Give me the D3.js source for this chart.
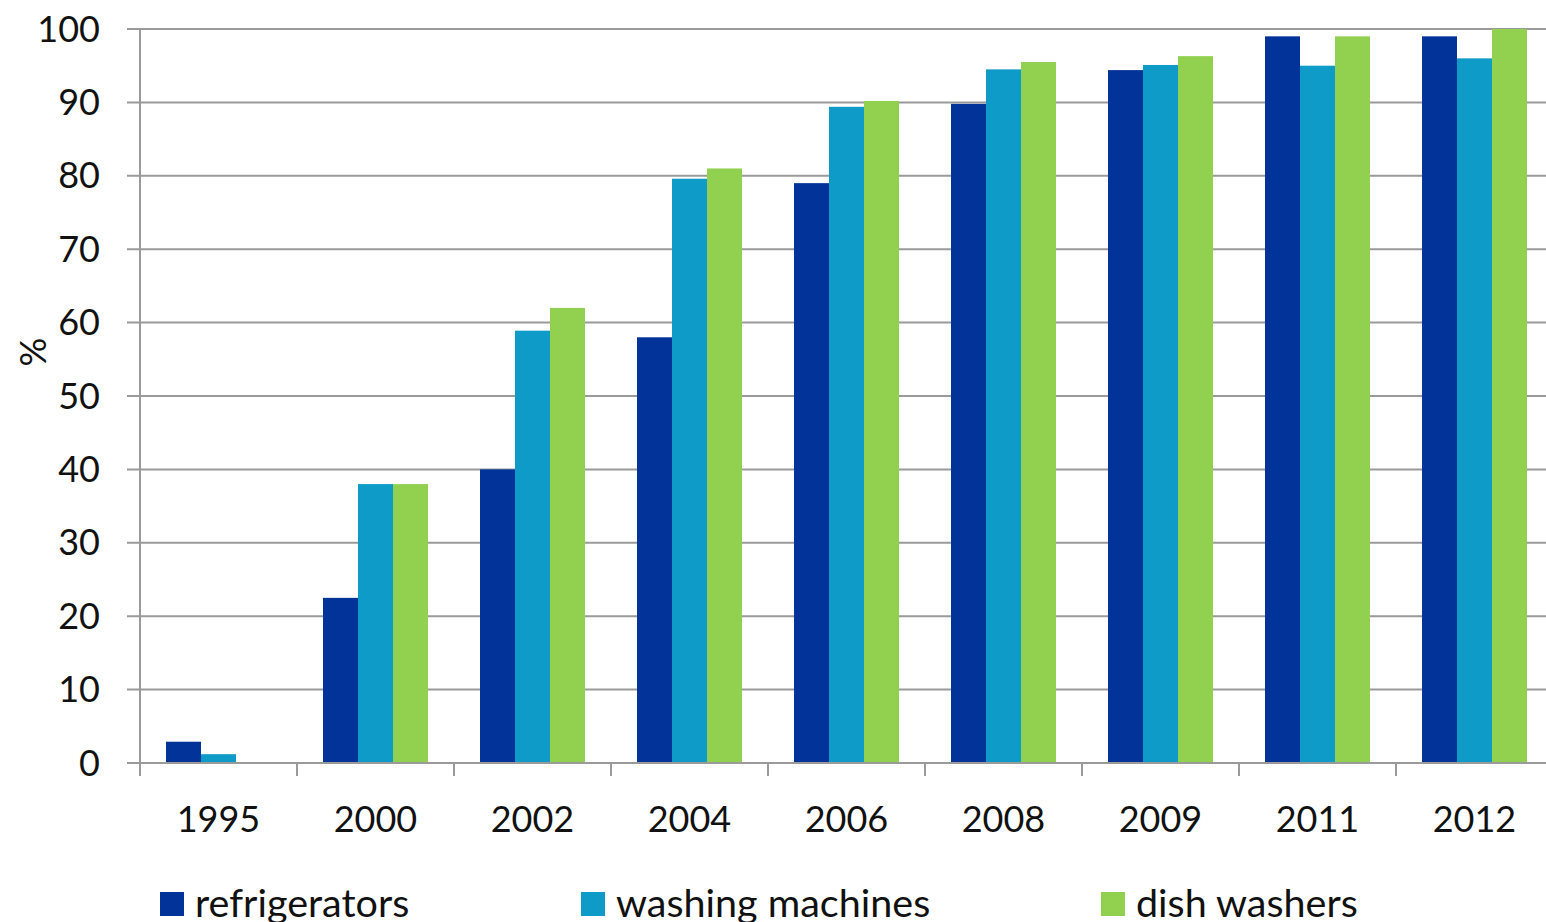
<!DOCTYPE html>
<html>
<head>
<meta charset="utf-8">
<script src="https://cdn.jsdelivr.net/npm/d3@7"></script>
<style>
  html, body { margin: 0; padding: 0; background: #fff; }
  svg { display: block; }
  text { font-family: Lato, "Open Sans", sans-serif; fill: #111; }
</style>
</head>
<body>
<svg id="chart" width="1546" height="922"></svg>
<script>
// Household appliance ownership, % of households
const years = ["1995", "2000", "2002", "2004", "2006", "2008", "2009", "2011", "2012"];
const seriesNames = ["refrigerators", "washing machines", "dish washers"];
const refrigerators   = [2.9, 22.5, 40, 58, 79, 89.8, 94.4, 99, 99];
const washingMachines = [1.2, 38, 58.9, 79.6, 89.4, 94.5, 95.1, 95, 96];
const dishWashers     = [0, 38, 62, 81, 90.2, 95.5, 96.3, 99, 100];
const yTicks = [0, 10, 20, 30, 40, 50, 60, 70, 80, 90, 100];
const colors = ["#023399", "#0E9BC7", "#92D050"];

const seriesValues = [refrigerators, washingMachines, dishWashers];

const svg = d3.select("#chart");
const plotLeft = 140, plotRight = 1553, plotTop = 29, plotBottom = 763;

const x0 = d3.scaleBand().domain(years).range([plotLeft, plotRight]).padding(0);
const groupPad = 26;
const x1 = d3.scaleBand().domain(seriesNames)
  .range([groupPad, x0.bandwidth() - groupPad]).padding(0);
const y = d3.scaleLinear().domain([0, 100]).range([plotBottom, plotTop]);

const gridColor = "#9a9a9a";

// horizontal gridlines with outward tick stubs
svg.append("g").selectAll("line").data(yTicks).join("line")
  .attr("x1", plotLeft - 13).attr("x2", plotRight)
  .attr("y1", d => y(d)).attr("y2", d => y(d))
  .attr("stroke", gridColor).attr("stroke-width", 2);

// bars
const groups = svg.append("g").selectAll("g").data(years).join("g")
  .attr("transform", d => `translate(${x0(d)},0)`);
groups.selectAll("rect")
  .data((yr, i) => seriesNames.map((s, j) => ({ s, j, v: seriesValues[j][i] })))
  .join("rect")
  .attr("x", d => x1(d.s))
  .attr("width", x1.bandwidth())
  .attr("y", d => y(d.v))
  .attr("height", d => y(0) - y(d.v))
  .attr("fill", d => colors[d.j]);

// y axis line
svg.append("line")
  .attr("x1", plotLeft).attr("x2", plotLeft).attr("y1", plotTop).attr("y2", plotBottom)
  .attr("stroke", gridColor).attr("stroke-width", 2);

// x axis line and category boundary ticks
svg.append("line")
  .attr("x1", plotLeft - 13).attr("x2", plotRight).attr("y1", plotBottom).attr("y2", plotBottom)
  .attr("stroke", gridColor).attr("stroke-width", 2);
const boundaries = years.map(d => x0(d)).concat([x0(years[years.length - 1]) + x0.bandwidth()]);
svg.append("g").selectAll("line").data(boundaries).join("line")
  .attr("x1", d => d).attr("x2", d => d)
  .attr("y1", plotBottom).attr("y2", plotBottom + 13)
  .attr("stroke", gridColor).attr("stroke-width", 2);

// y tick labels
svg.append("g").selectAll("text").data(yTicks).join("text")
  .attr("x", 100).attr("y", d => y(d))
  .attr("dy", "0.35em")
  .attr("text-anchor", "end")
  .style("font-size", "36px")
  .text(d => d);

// x tick labels
svg.append("g").selectAll("text").data(years).join("text")
  .attr("x", d => x0(d) + x0.bandwidth() / 2)
  .attr("y", 832)
  .attr("text-anchor", "middle")
  .style("font-size", "36px")
  .text(d => d);

// y axis title
svg.append("text")
  .attr("transform", "translate(46,352) rotate(-90)")
  .attr("text-anchor", "middle")
  .style("font-size", "36px")
  .text("%");

// legend
const legendX = [160, 581, 1101];
const legend = svg.append("g").selectAll("g").data(seriesNames).join("g")
  .attr("transform", (d, i) => `translate(${legendX[i]},892)`);
legend.append("rect").attr("width", 24).attr("height", 24)
  .attr("fill", (d, i) => colors[i]);
legend.append("text").attr("x", 35).attr("y", 25)
  .style("font-size", "39.5px")
  .text(d => d);
</script>
</body>
</html>
